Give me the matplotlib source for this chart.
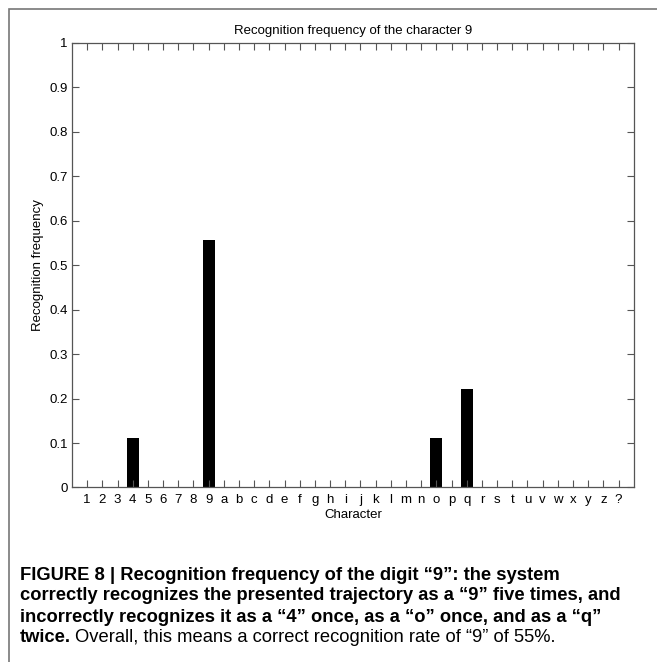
import matplotlib
matplotlib.use("Agg")
import matplotlib.pyplot as plt
from matplotlib.patches import Rectangle

# categories and recognition frequencies
characters = list("123456789abcdefghijklmnopqrstuvwxyz?")
recognized = ["4", "9", "o", "q"]
frequencies = [0.111, 0.556, 0.111, 0.222]

values = [0.0] * len(characters)
for ch, f in zip(recognized, frequencies):
    values[characters.index(ch)] = f
positions = list(range(1, len(characters) + 1))

plt.rcParams['font.family'] = ['Liberation Sans', 'DejaVu Sans']

fig = plt.figure(figsize=(6.57, 6.62), dpi=100)

# frame around figure + caption
fig.patches.append(Rectangle((9 / 657, -0.1), 1.2, 1 - 9 / 662 + 0.1,
                             transform=fig.transFigure, fill=False,
                             edgecolor='#777777', linewidth=1.2))

ax = fig.add_axes([0.1096, 0.2636, 0.855, 0.672])
ax.bar(positions, values, width=0.8, color='black')
ax.set_xlim(0, 37)
ax.set_ylim(0, 1)
ax.set_xticks(positions)
ax.set_xticklabels(characters)
ax.set_yticks([i / 10 for i in range(11)])
ax.set_yticklabels(["0"] + ["0.%d" % i for i in range(1, 10)] + ["1"])
ax.tick_params(direction='in', top=True, right=True, length=5,
               labelsize=9.5, color='#555555', width=0.8)
ax.tick_params(axis='y', pad=3)
ax.tick_params(axis='x', pad=5)
for s in ax.spines.values():
    s.set_color('#555555')
    s.set_linewidth(0.9)
ax.set_title("Recognition frequency of the character 9", fontsize=9.5, pad=6)
ax.set_xlabel("Character", fontsize=9.5, labelpad=2)
ax.set_ylabel("Recognition frequency", fontsize=9.5)
ax.yaxis.set_label_coords(-0.05, 0.5)

cap_font = ['Liberation Sans', 'DejaVu Sans']
cap_size = 13.2
x0 = 20 / 657
lines = [
    "FIGURE 8 | Recognition frequency of the digit \u201c9\u201d: the system",
    "correctly recognizes the presented trajectory as a \u201c9\u201d five times, and",
    "incorrectly recognizes it as a \u201c4\u201d once, as a \u201co\u201d once, and as a \u201cq\u201d",
]
ys = [575, 596, 617]
for t, y in zip(lines, ys):
    fig.text(x0, 1 - y / 662, t, fontsize=cap_size, fontweight='bold',
             family=cap_font, va='center', ha='left')

t1 = fig.text(x0, 1 - 638 / 662, "twice.", fontsize=cap_size, fontweight='bold',
              family=cap_font, va='center', ha='left')
fig.canvas.draw()
bb = t1.get_window_extent()
fig.text(bb.x1 / fig.bbox.width + 4 / 657, 1 - 638 / 662,
         "Overall, this means a correct recognition rate of \u201c9\u201d of 55%.",
         fontsize=cap_size, family=cap_font, va='center', ha='left')

fig.savefig("out.png", dpi=100)
